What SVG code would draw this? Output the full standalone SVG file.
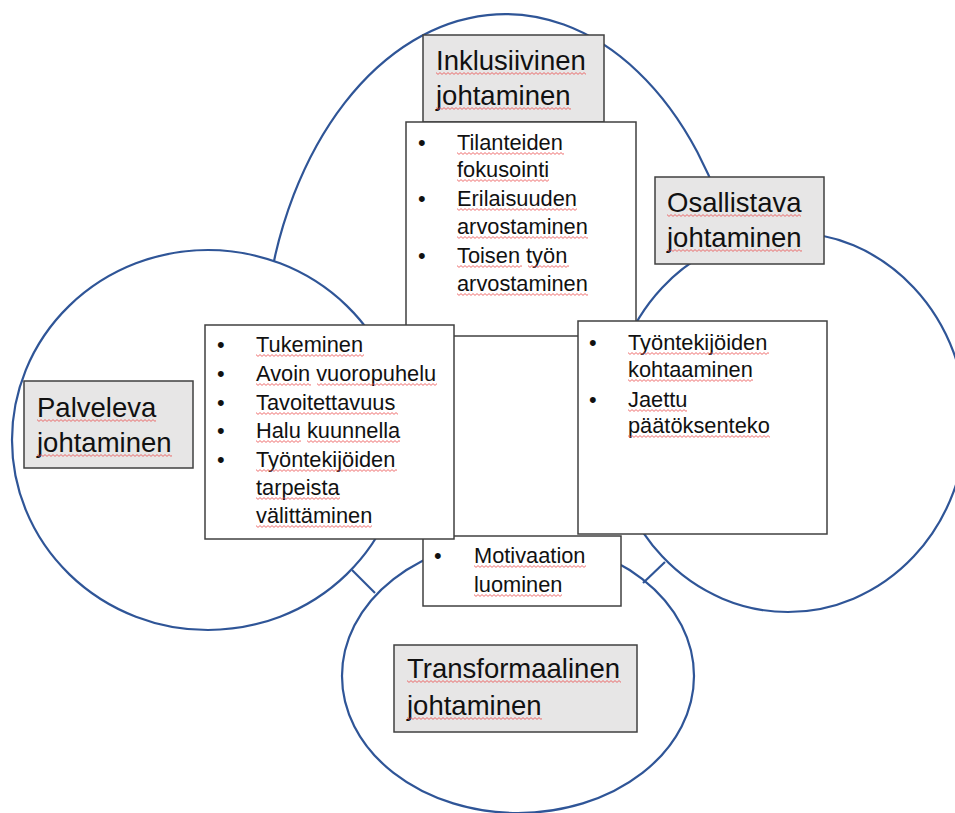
<svg xmlns="http://www.w3.org/2000/svg" width="955" height="813" viewBox="0 0 955 813">
<style>
.c{fill:#fff;stroke:#2f5597;stroke-width:2.2}
.arc{fill:none;stroke:#2f5597;stroke-width:2.2}
.lk{stroke:#2f5597;stroke-width:2.2;fill:none}
.lab{fill:#e7e6e6;stroke:#404040;stroke-width:1.5}
.box{fill:#fff;stroke:#404040;stroke-width:1.5}
.h{font-family:"Liberation Sans",Arial,sans-serif;font-size:27.5px;fill:#111}
.b{font-family:"Liberation Sans",Arial,sans-serif;font-size:21.8px;fill:#111}
.sq{fill:url(#wave)}
</style>
<defs>
<pattern id="wave" width="4" height="3" patternUnits="userSpaceOnUse"><path d="M0 0.6 L2 2.4 L4 0.6" fill="none" stroke="#ea4a4a" stroke-width="0.8"/></pattern>
</defs>
<g id="shape-inklusiivinen"><path class="arc" d="M267 300 A243 356 0 0 1 734 250"/></g>
<g id="shape-palveleva"><ellipse class="c" cx="208" cy="440" rx="196" ry="190"/></g>
<g id="shape-osallistava"><ellipse class="c" cx="788" cy="422" rx="178" ry="190"/></g>
<g id="shape-transformaalinen"><ellipse class="c" cx="518" cy="676" rx="176" ry="137"/></g>
<g id="connectors">
<line class="lk" x1="352" y1="570" x2="375" y2="593"/>
<line class="lk" x1="665" y1="562" x2="643" y2="583"/>
</g>
<g id="box-motivaatio">
<rect class="box" x="423" y="536" width="198" height="70"/>
<text class="b" x="434" y="563">•</text>
<text class="b" x="474" y="563">Motivaation</text>
<text class="b" x="474" y="592">luominen</text>
<rect class="sq" transform="translate(474 565)" width="112" height="3"/>
<rect class="sq" transform="translate(474 594)" width="88" height="3"/>
</g>
<g id="label-inklusiivinen">
<rect class="lab" x="423" y="35" width="181" height="87"/>
<text class="h" x="436" y="70">Inklusiivinen</text>
<text class="h" x="436" y="105">johtaminen</text>
<rect class="sq" transform="translate(436 72)" width="150" height="3"/>
<rect class="sq" transform="translate(436 107)" width="135" height="3"/>
</g>
<g id="box-inklusiivinen">
<rect class="box" x="406" y="122" width="230" height="214"/>
<text class="b" x="418" y="150">•</text>
<text class="b" x="457" y="150">Tilanteiden</text>
<text class="b" x="457" y="177">fokusointi</text>
<text class="b" x="418" y="206">•</text>
<text class="b" x="457" y="206">Erilaisuuden</text>
<text class="b" x="457" y="234">arvostaminen</text>
<text class="b" x="418" y="263">•</text>
<text class="b" x="457" y="263">Toisen työn</text>
<text class="b" x="457" y="291">arvostaminen</text>
<rect class="sq" transform="translate(457 152)" width="107" height="3"/>
<rect class="sq" transform="translate(457 179)" width="92" height="3"/>
<rect class="sq" transform="translate(457 208)" width="120" height="3"/>
<rect class="sq" transform="translate(457 236)" width="131" height="3"/>
<rect class="sq" transform="translate(457 265)" width="65" height="3"/>
<rect class="sq" transform="translate(528 265)" width="41" height="3"/>
<rect class="sq" transform="translate(457 293)" width="131" height="3"/>
</g>
<g id="box-palveleva">
<rect class="box" x="205" y="325" width="249" height="214"/>
<text class="b" x="217" y="352">•</text>
<text class="b" x="256" y="352">Tukeminen</text>
<text class="b" x="217" y="381">•</text>
<text class="b" x="256" y="381">Avoin vuoropuhelu</text>
<text class="b" x="217" y="410">•</text>
<text class="b" x="256" y="410">Tavoitettavuus</text>
<text class="b" x="217" y="438">•</text>
<text class="b" x="256" y="438">Halu kuunnella</text>
<text class="b" x="217" y="467">•</text>
<text class="b" x="256" y="467">Työntekijöiden</text>
<text class="b" x="256" y="495">tarpeista</text>
<text class="b" x="256" y="523">välittäminen</text>
<rect class="sq" transform="translate(256 354)" width="108" height="3"/>
<rect class="sq" transform="translate(256 383)" width="55" height="3"/>
<rect class="sq" transform="translate(317 383)" width="120" height="3"/>
<rect class="sq" transform="translate(256 412)" width="142" height="3"/>
<rect class="sq" transform="translate(256 440)" width="45" height="3"/>
<rect class="sq" transform="translate(307 440)" width="93" height="3"/>
<rect class="sq" transform="translate(256 469)" width="141" height="3"/>
<rect class="sq" transform="translate(256 497)" width="84" height="3"/>
<rect class="sq" transform="translate(256 525)" width="116" height="3"/>
</g>
<g id="box-osallistava">
<rect class="box" x="578" y="321" width="249" height="213"/>
<text class="b" x="589" y="350">•</text>
<text class="b" x="628" y="350">Työntekijöiden</text>
<text class="b" x="628" y="377">kohtaaminen</text>
<text class="b" x="589" y="407">•</text>
<text class="b" x="628" y="407">Jaettu</text>
<text class="b" x="628" y="433">päätöksenteko</text>
<rect class="sq" transform="translate(628 352)" width="141" height="3"/>
<rect class="sq" transform="translate(628 379)" width="125" height="3"/>
<rect class="sq" transform="translate(628 409)" width="59" height="3"/>
<rect class="sq" transform="translate(628 435)" width="142" height="3"/>
</g>
<g id="label-osallistava">
<rect class="lab" x="655" y="177" width="169" height="87"/>
<text class="h" x="667" y="212">Osallistava</text>
<text class="h" x="667" y="247">johtaminen</text>
<rect class="sq" transform="translate(667 214)" width="134" height="3"/>
<rect class="sq" transform="translate(667 249)" width="135" height="3"/>
</g>
<g id="label-palveleva">
<rect class="lab" x="24" y="381" width="169" height="87"/>
<text class="h" x="37" y="417">Palveleva</text>
<text class="h" x="37" y="452">johtaminen</text>
<rect class="sq" transform="translate(37 419)" width="119" height="3"/>
<rect class="sq" transform="translate(37 454)" width="135" height="3"/>
</g>
<g id="label-transformaalinen">
<rect class="lab" x="394" y="645" width="243" height="87"/>
<text class="h" x="407" y="678">Transformaalinen</text>
<text class="h" x="407" y="715">johtaminen</text>
<rect class="sq" transform="translate(407 680)" width="214" height="3"/>
<rect class="sq" transform="translate(407 717)" width="135" height="3"/>
</g>
</svg>
